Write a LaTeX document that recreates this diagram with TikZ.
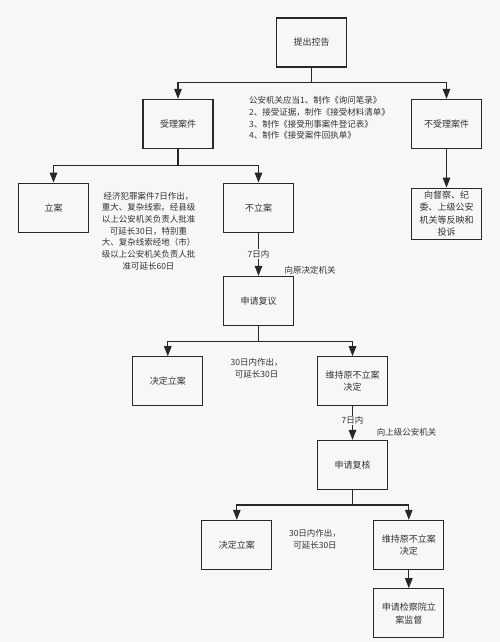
\documentclass[tikz,border=0pt]{standalone}
\usepackage{fontspec}
\setmainfont{Noto Sans CJK SC}
\usetikzlibrary{arrows.meta}
\definecolor{bg}{RGB}{247,247,247}
\definecolor{ink}{RGB}{40,40,40}
\definecolor{txt}{RGB}{50,50,50}
\tikzset{
  boxnode/.style={draw=ink, fill=bg, line width=1.3pt, minimum width=70pt, minimum height=49pt,
    inner sep=1pt, align=center, text=txt, font=\fontsize{9}{12.5}\selectfont, text width=64pt},
  note/.style={text=txt, font=\fontsize{8.5}{11.7}\selectfont, inner sep=0pt},
  conn/.style={draw=ink, line width=1.3pt},
  arr/.style={conn, -{Triangle[width=7.5pt,length=10pt]}},
  lbl/.style={note, fill=bg, inner sep=1pt}
}
\begin{document}
\begin{tikzpicture}[x=1pt,y=-1pt]
\fill[bg] (0,0) rectangle (500,642);
\useasboundingbox (0,0) rectangle (500,642);

\node[boxnode] (n1) at (311.5,42.5) {提出控告};
\node[boxnode] (n2) at (178,124) {受理案件};
\node[boxnode] (n3) at (446.5,124) {不受理案件};
\node[note, anchor=west, align=left] (t1) at (249,118) {公安机关应当1、制作《询问笔录》\\2、接受证据，制作《接受材料清单》\\3、制作《接受刑事案件登记表》\\4、制作《接受案件回执单》};

\node[boxnode] (n4) at (53.5,207.7) {立案};
\node[boxnode] (n5) at (258.5,207.7) {不立案};
\node[note, align=center] (t2) at (148.5,231) {经济犯罪案件7日作出，\\重大、复杂线索。经县级\\以上公安机关负责人批准\\可延长30日，特别重\\大、复杂线索经地（市）\\级以上公安机关负责人批\\准可延长60日};
\node[boxnode, minimum height=51pt] (n6) at (446.5,213.8) {向督察、纪\\委、上级公安\\机关等反映和\\投诉};

\node[boxnode] (n7) at (258.5,301) {申请复议};
\node[note] (l2) at (310,270) {向原决定机关};

\node[boxnode] (n8) at (167.8,381.3) {决定立案};
\node[boxnode] (n9) at (352.5,381.3) {维持原不立案\\决定};
\node[note, align=center] (t3) at (256.7,368.5) {30日内作出，\\可延长30日};

\node[note] (l4) at (406.7,432.7) {向上级公安机关};
\node[boxnode] (n10) at (352.5,465) {申请复核};

\node[boxnode] (n11) at (236.8,545) {决定立案};
\node[boxnode] (n12) at (408.8,545) {维持原不立案\\决定};
\node[note, align=center] (t4) at (315,539) {30日内作出，\\可延长30日};
\node[boxnode] (n13) at (408.8,613.3) {申请检察院立\\案监督};

\coordinate (j1) at (311.5,82.7);
\coordinate (j2) at (178,165.5);
\coordinate (j3) at (258.5,341.7);
\coordinate (j4) at (352.5,505);

\draw[conn] (n1) -- (j1);
\draw[arr] (j1) -| (n2);
\draw[arr] (j1) -| (n3);
\draw[conn] (n2) -- (j2);
\draw[arr] (j2) -| (n4);
\draw[arr] (j2) -| (n5);
\draw[arr] (n3) -- (n6);
\draw[arr] (n5) -- node[lbl, midway] (l1) {7日内} (n7);
\draw[conn] (n7) -- (j3);
\draw[arr] (j3) -| (n8);
\draw[arr] (j3) -| (n9);
\draw[arr] (n9) -- node[lbl, pos=0.42] (l3) {7日内} (n10);
\draw[conn] (n10) -- (j4);
\draw[arr] (j4) -| (n11);
\draw[arr] (j4) -| (n12);
\draw[arr] (n12) -- (n13);
\end{tikzpicture}
\end{document}
